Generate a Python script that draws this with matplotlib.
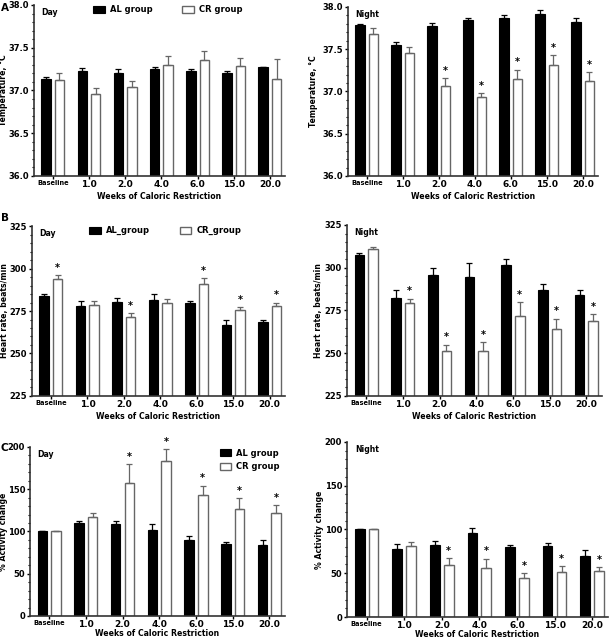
import matplotlib.pyplot as plt
import numpy as np
from matplotlib.ticker import MultipleLocator

plt.rcParams['font.family'] = 'DejaVu Sans'
plt.rcParams['font.weight'] = 'bold'
plt.rcParams['axes.labelweight'] = 'bold'

weeks = ['Baseline', '1.0', '2.0', '4.0', '6.0', '15.0', '20.0']

# A - body temperature
temp_day_al = [37.13, 37.23, 37.21, 37.25, 37.23, 37.20, 37.27]
temp_day_al_err = [0.03, 0.03, 0.04, 0.02, 0.02, 0.03, 0.01]
temp_day_cr = [37.12, 36.96, 37.04, 37.30, 37.36, 37.29, 37.14]
temp_day_cr_err = [0.08, 0.07, 0.07, 0.10, 0.10, 0.09, 0.23]
temp_day_sig = [0, 0, 0, 0, 0, 0, 0]

temp_night_al = [37.79, 37.55, 37.78, 37.84, 37.87, 37.92, 37.82]
temp_night_al_err = [0.01, 0.04, 0.03, 0.03, 0.04, 0.04, 0.05]
temp_night_cr = [37.68, 37.46, 37.07, 36.93, 37.15, 37.31, 37.12]
temp_night_cr_err = [0.07, 0.07, 0.09, 0.05, 0.11, 0.12, 0.11]
temp_night_sig = [0, 0, 1, 1, 1, 1, 1]

# B - heart rate
hr_day_al = [283.6, 278.0, 280.1, 281.6, 279.7, 267.0, 268.4]
hr_day_al_err = [1.6, 3.0, 2.5, 3.6, 1.3, 3.0, 1.6]
hr_day_cr = [294.0, 278.7, 271.7, 279.5, 291.0, 275.8, 278.0]
hr_day_cr_err = [2.3, 2.3, 2.3, 2.7, 3.5, 1.5, 2.0]
hr_day_sig = [1, 0, 1, 0, 1, 1, 1]

hr_night_al = [307.2, 282.4, 295.7, 294.5, 301.4, 287.1, 284.0]
hr_night_al_err = [1.6, 4.3, 3.9, 8.0, 3.5, 3.1, 2.9]
hr_night_cr = [310.9, 279.1, 251.2, 251.6, 271.5, 263.9, 268.8]
hr_night_cr_err = [1.1, 2.9, 3.9, 5.2, 8.6, 6.4, 3.9]
hr_night_sig = [0, 1, 1, 1, 1, 1, 1]

# C - activity
act_day_al = [100, 109.9, 108.3, 101.6, 90.1, 85.0, 83.7]
act_day_al_err = [0, 2.4, 4.0, 7.1, 4.7, 3.1, 6.0]
act_day_cr = [100, 117.0, 157.5, 183.3, 142.9, 127.0, 121.8]
act_day_cr_err = [0, 4.4, 22.3, 14.7, 11.5, 13.0, 9.9]
act_day_sig = [0, 0, 1, 1, 1, 1, 1]

act_night_al = [100, 77.7, 82.3, 96.0, 79.9, 80.6, 69.9]
act_night_al_err = [0, 5.7, 5.0, 6.0, 2.7, 4.2, 6.9]
act_night_cr = [100, 81.2, 59.9, 56.4, 44.5, 51.4, 52.9]
act_night_cr_err = [0, 5.0, 7.3, 10.4, 5.8, 6.9, 4.3]
act_night_sig = [0, 0, 1, 1, 1, 1, 1]

W, H = 611, 639
fig = plt.figure(figsize=(W / 100, H / 100), dpi=100)

edge_cr = '#666666'
w = 0.26
off = 0.185
x = np.arange(len(weeks))


def panel(rect, al, al_err, cr, cr_err, sig, ylim, major, minor, fmt, ylabel, tag,
          ylab_px, xlab_px):
    ax = fig.add_axes(rect)
    zeros = np.zeros(len(x))
    b1 = ax.bar(x - off, al, w, color='black', edgecolor='black', linewidth=0.8,
                yerr=[zeros, al_err], error_kw=dict(ecolor='black', elinewidth=0.9,
                                                     capsize=2, capthick=0.9))
    b2 = ax.bar(x + off, cr, w, color='white', edgecolor=edge_cr, linewidth=1.0,
                yerr=[zeros, cr_err], error_kw=dict(ecolor=edge_cr, elinewidth=0.9,
                                                     capsize=2, capthick=0.9))
    for i in range(len(x)):
        if sig[i]:
            ax.annotate('*', (x[i] + off, cr[i] + cr_err[i]), xytext=(0, 1.5),
                        textcoords='offset points', ha='center', va='bottom',
                        fontsize=7, fontweight='bold')
    ax.set_xlim(-0.52, 6.42)
    ax.set_ylim(*ylim)
    ax.yaxis.set_major_locator(MultipleLocator(major))
    ax.yaxis.set_minor_locator(MultipleLocator(minor))
    ax.yaxis.set_major_formatter(plt.FormatStrFormatter(fmt))
    ax.set_xticks(x)
    ax.set_xticklabels(weeks)
    for lab in ax.get_xticklabels():
        lab.set_fontsize(4.8 if lab.get_text() == 'Baseline' else 6.5)
    ax.tick_params(axis='y', labelsize=6.0, length=2.5, width=1, pad=1)
    ax.tick_params(axis='y', which='minor', length=1.3, width=0.8)
    ax.tick_params(axis='x', length=2, width=1, pad=1)
    for s in ['top', 'right']:
        ax.spines[s].set_visible(False)
    for s in ['left', 'bottom']:
        ax.spines[s].set_linewidth(1.2)
        ax.spines[s].set_color('#333333')
    ax.set_xlabel('Weeks of Caloric Restriction', fontsize=5.6)
    ax.set_ylabel(ylabel, fontsize=5.6)
    ax.yaxis.set_label_coords(-ylab_px / (rect[2] * W), 0.5)
    ax.xaxis.set_label_coords(0.5, -xlab_px / (rect[3] * H))
    ax.text(0.03, 0.985, tag, transform=ax.transAxes, fontsize=5.6,
            fontweight='bold', va='top')
    return ax, b1, b2


axA1, a1, a2 = panel([0.0556, 0.7246, 0.411, 0.2676], temp_day_al, temp_day_al_err,
                     temp_day_cr, temp_day_cr_err, temp_day_sig, (36.0, 38.0), 0.5, 0.1,
                     '%.1f', 'Temperature, °C', 'Day', 26, 16)
axA2, _, _ = panel([0.5696, 0.7246, 0.409, 0.2645], temp_night_al, temp_night_al_err,
                   temp_night_cr, temp_night_cr_err, temp_night_sig, (36.0, 38.0), 0.5, 0.1,
                   '%.1f', 'Temperature, °C', 'Night', 30, 16)
axB1, c1, c2 = panel([0.0524, 0.3803, 0.414, 0.266], hr_day_al, hr_day_al_err,
                     hr_day_cr, hr_day_cr_err, hr_day_sig, (225, 325), 25, 5,
                     '%d', 'Heart rate, beats/min', 'Day', 23.5, 16)
axB2, _, _ = panel([0.568, 0.3803, 0.417, 0.2676], hr_night_al, hr_night_al_err,
                   hr_night_cr, hr_night_cr_err, hr_night_sig, (225, 325), 25, 5,
                   '%d', 'Heart rate, beats/min', 'Night', 24, 16)
axC1, d1, d2 = panel([0.0491, 0.036, 0.417, 0.2645], act_day_al, act_day_al_err,
                     act_day_cr, act_day_cr_err, act_day_sig, (0, 200), 50, 10,
                     '%d', '% Activity change', 'Day', 22, 13)
axC2, _, _ = panel([0.568, 0.0344, 0.427, 0.274], act_night_al, act_night_al_err,
                   act_night_cr, act_night_cr_err, act_night_sig, (0, 200), 50, 10,
                   '%d', '% Activity change', 'Night', 23, 13)

leg_kw = dict(frameon=False, fontsize=6, handlelength=1.4, handleheight=0.9,
              handletextpad=0.6, borderpad=0, borderaxespad=0)
axA1.legend([a1, a2], ['AL group', 'CR group'], ncol=2, loc='upper left',
            bbox_to_anchor=(0.235, 1.0), columnspacing=3.6, **leg_kw)
axB1.legend([c1, c2], ['AL_group', 'CR_group'], ncol=2, loc='upper left',
            bbox_to_anchor=(0.225, 1.0), columnspacing=3.6, **leg_kw)
axC1.legend([d1, d2], ['AL group', 'CR group'], ncol=1, loc='upper left',
            bbox_to_anchor=(0.745, 0.99), labelspacing=0.55, **leg_kw)

fig.text(0.002, 0.996, 'A', fontsize=7.5, fontweight='bold', va='top')
fig.text(0.002, 0.666, 'B', fontsize=7.5, fontweight='bold', va='top')
fig.text(0.001, 0.306, 'C', fontsize=7.5, fontweight='bold', va='top')

fig.savefig('out.png', dpi=100)
